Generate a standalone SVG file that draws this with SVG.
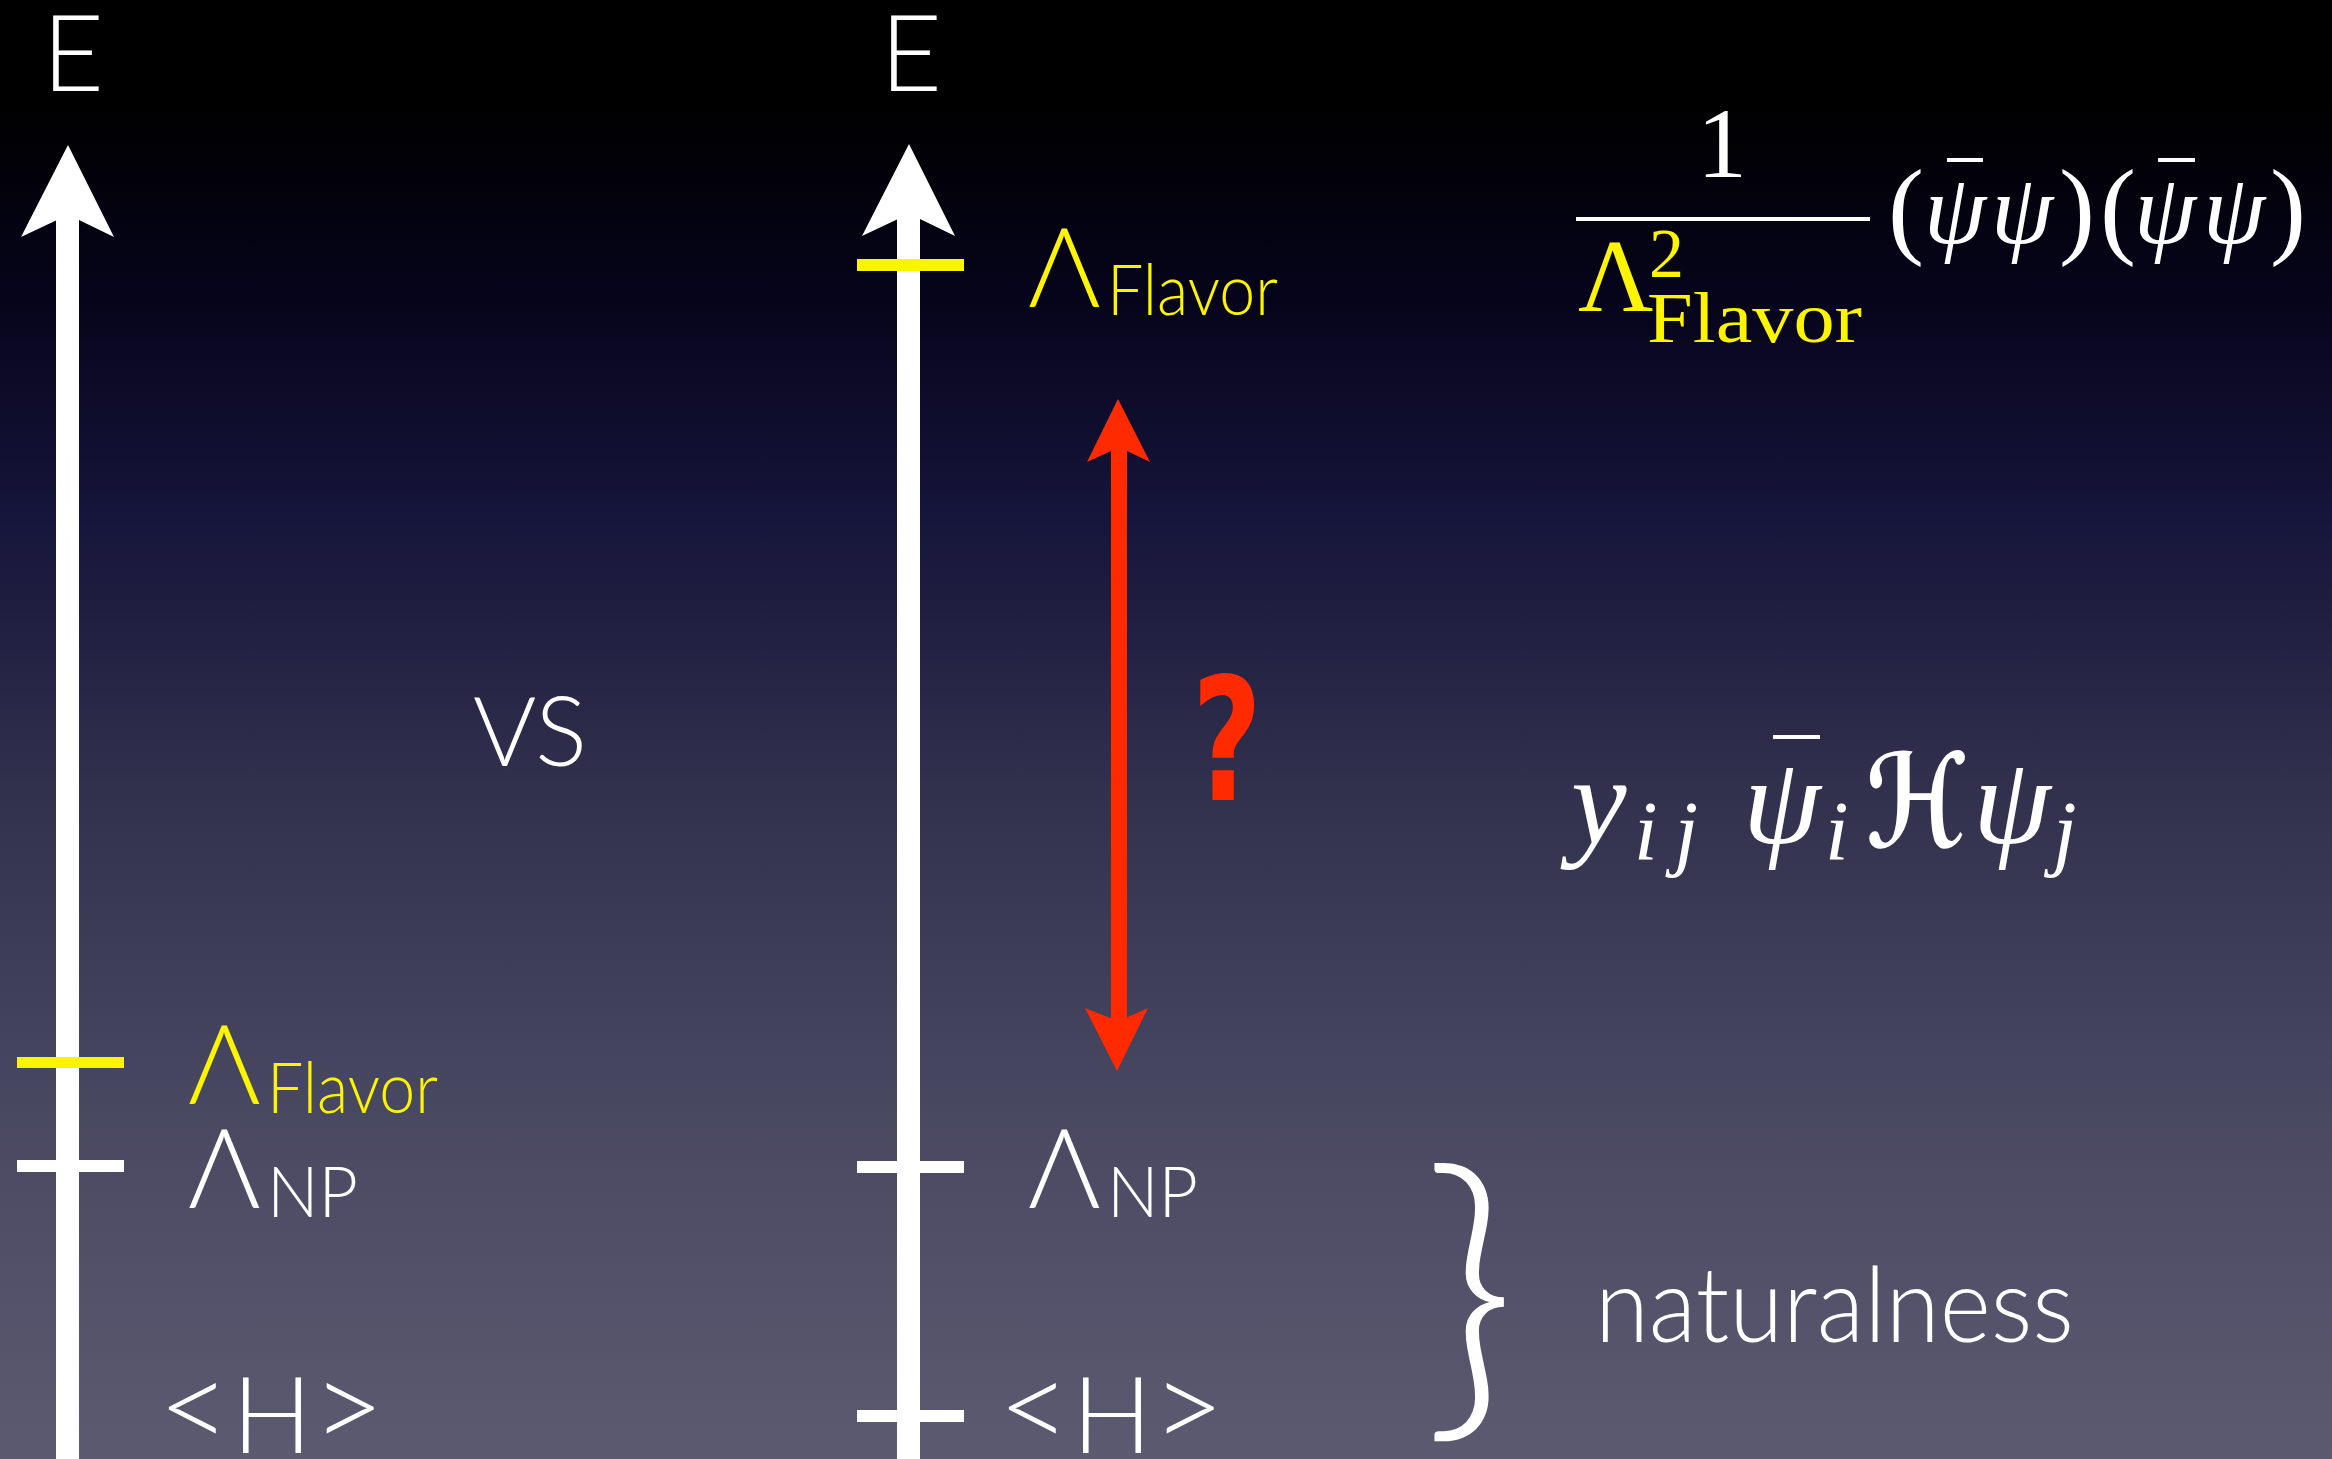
<svg xmlns="http://www.w3.org/2000/svg" width="2332" height="1459" viewBox="0 0 2332 1459">
<defs>
<linearGradient id="bg" x1="0" y1="0" x2="0" y2="1">
<stop offset="0" stop-color="#000000"/>
<stop offset="0.07" stop-color="#000000"/>
<stop offset="0.2" stop-color="#06041a"/>
<stop offset="0.35" stop-color="#15143a"/>
<stop offset="0.56" stop-color="#34334f"/>
<stop offset="0.77" stop-color="#4a4962"/>
<stop offset="0.97" stop-color="#5a586f"/>
<stop offset="1" stop-color="#5c5a70"/>
</linearGradient>
</defs>
<style>
.g{font-family:Lato,"Open Sans","DejaVu Sans",sans-serif;font-weight:300;fill:#fff}
.m{font-family:"Liberation Serif","DejaVu Serif",serif;fill:#fff}
.i{font-style:italic}
.ax{fill:#fff}
.tk{fill:#fff}
.tky{fill:#fcf400}
.red{fill:#ff2a00}
.y{fill:#fcf400}
</style>
<rect x="0" y="0" width="2332" height="1459" fill="url(#bg)"/>

<g id="axis-left">
<rect class="ax" x="56" y="215" width="23" height="1244"/>
<polygon class="ax" points="68,145 114,237 79,220 57,220 21,237"/>
<text class="g" x="42" y="91" font-size="107">E</text>
</g>
<g id="axis-right">
<rect class="ax" x="897" y="215" width="23" height="1244"/>
<polygon class="ax" points="909,144 955,236 920,219 898,219 862,236"/>
<text class="g" x="880" y="91" font-size="107">E</text>
</g>

<g id="left-flavor">
<rect class="tky" x="17" y="1057" width="107" height="11"/>
<text class="g y" x="188" y="1104" font-size="111">Λ<tspan x="267" y="1113" font-size="70" textLength="171" lengthAdjust="spacingAndGlyphs">Flavor</tspan></text>
</g>
<g id="left-np">
<rect class="tk" x="17" y="1160" width="107" height="12"/>
<text class="g" x="188" y="1208" font-size="111">Λ<tspan x="267" y="1217" font-size="70" textLength="91" lengthAdjust="spacingAndGlyphs">NP</tspan></text>
</g>
<g id="left-h">
<text class="g" y="1453" font-size="106"><tspan x="158" y="1450" font-size="125">&lt;</tspan><tspan x="232" y="1453">H</tspan><tspan x="312" y="1450" font-size="125">&gt;</tspan></text>
</g>

<g id="vs">
<text class="g" x="473" y="766" font-size="97" textLength="114" lengthAdjust="spacingAndGlyphs">VS</text>
</g>

<g id="right-flavor">
<rect class="tky" x="857" y="259" width="107" height="12"/>
<text class="g y" x="1028" y="307" font-size="111">Λ<tspan x="1107" y="315" font-size="70" textLength="171" lengthAdjust="spacingAndGlyphs">Flavor</tspan></text>
</g>
<g id="right-np">
<rect class="tk" x="857" y="1161" width="107" height="12"/>
<text class="g" x="1028" y="1208" font-size="111">Λ<tspan x="1107" y="1217" font-size="70" textLength="91" lengthAdjust="spacingAndGlyphs">NP</tspan></text>
</g>
<g id="right-h">
<rect class="tk" x="857" y="1410" width="107" height="12"/>
<text class="g" y="1453" font-size="106"><tspan x="998" y="1450" font-size="125">&lt;</tspan><tspan x="1072" y="1453">H</tspan><tspan x="1152" y="1450" font-size="125">&gt;</tspan></text>
</g>

<g id="connectors">
<rect class="red" x="1111" y="450" width="16" height="570"/>
<polygon class="red" points="1118,399 1150,462 1127,451 1111,451 1087,462"/>
<polygon class="red" points="1117,1071 1148,1008 1126,1018 1110,1018 1085,1008"/>
</g>
<g id="question">
<text x="1192" y="800" font-family="'DejaVu Sans','Liberation Sans',sans-serif" font-weight="bold" font-size="172" fill="#ff2a00" textLength="70" lengthAdjust="spacingAndGlyphs">?</text>
</g>

<g id="formula-1">
<text class="m" x="1722" y="177" font-size="100" text-anchor="middle">1</text>
<rect fill="#fff" x="1576" y="217" width="294" height="4"/>
<text class="m y" x="1578" y="311" font-size="104">Λ</text>
<text class="m y" x="1649" y="277" font-size="70">2</text>
<text class="m y" x="1647" y="342" font-size="72" textLength="215" lengthAdjust="spacingAndGlyphs">Flavor</text>
<text class="m" y="244" font-size="108"><tspan x="1888">(</tspan><tspan x="2059">)</tspan><tspan x="2100">(</tspan><tspan x="2270">)</tspan></text>
<text class="m i" y="243" font-size="100"><tspan x="1924">ψ</tspan><tspan x="1991">ψ</tspan><tspan x="2134">ψ</tspan><tspan x="2203">ψ</tspan></text>
<rect fill="#fff" x="1947" y="158" width="36" height="4"/>
<rect fill="#fff" x="2158" y="158" width="37" height="4"/>
</g>

<g id="formula-2">
<text class="m i" x="1571" y="843" font-size="125">y</text>
<text class="m i" x="1634" y="860" font-size="85" textLength="64" lengthAdjust="spacing">ij</text>
<text class="m i" x="1743" y="843" font-size="125">ψ</text>
<rect fill="#fff" x="1773" y="735" width="47" height="4"/>
<text class="m i" x="1825" y="860" font-size="85">i</text>
<text x="1866" y="847" font-family="'DejaVu Serif','DejaVu Sans',serif" font-style="italic" font-weight="bold" font-size="130" fill="#fff" textLength="100" lengthAdjust="spacingAndGlyphs">ℋ</text>
<text class="m i" x="1973" y="843" font-size="125">ψ</text>
<text class="m i" x="2053" y="860" font-size="85">j</text>
</g>

<g id="naturalness">
<text class="g" x="0" y="0" font-size="250" font-weight="400" transform="translate(1422 1400) scale(1.29 1.25)">}</text>
<text class="g" x="1595" y="1342" font-size="105" textLength="479" lengthAdjust="spacingAndGlyphs">naturalness</text>
</g>
</svg>
